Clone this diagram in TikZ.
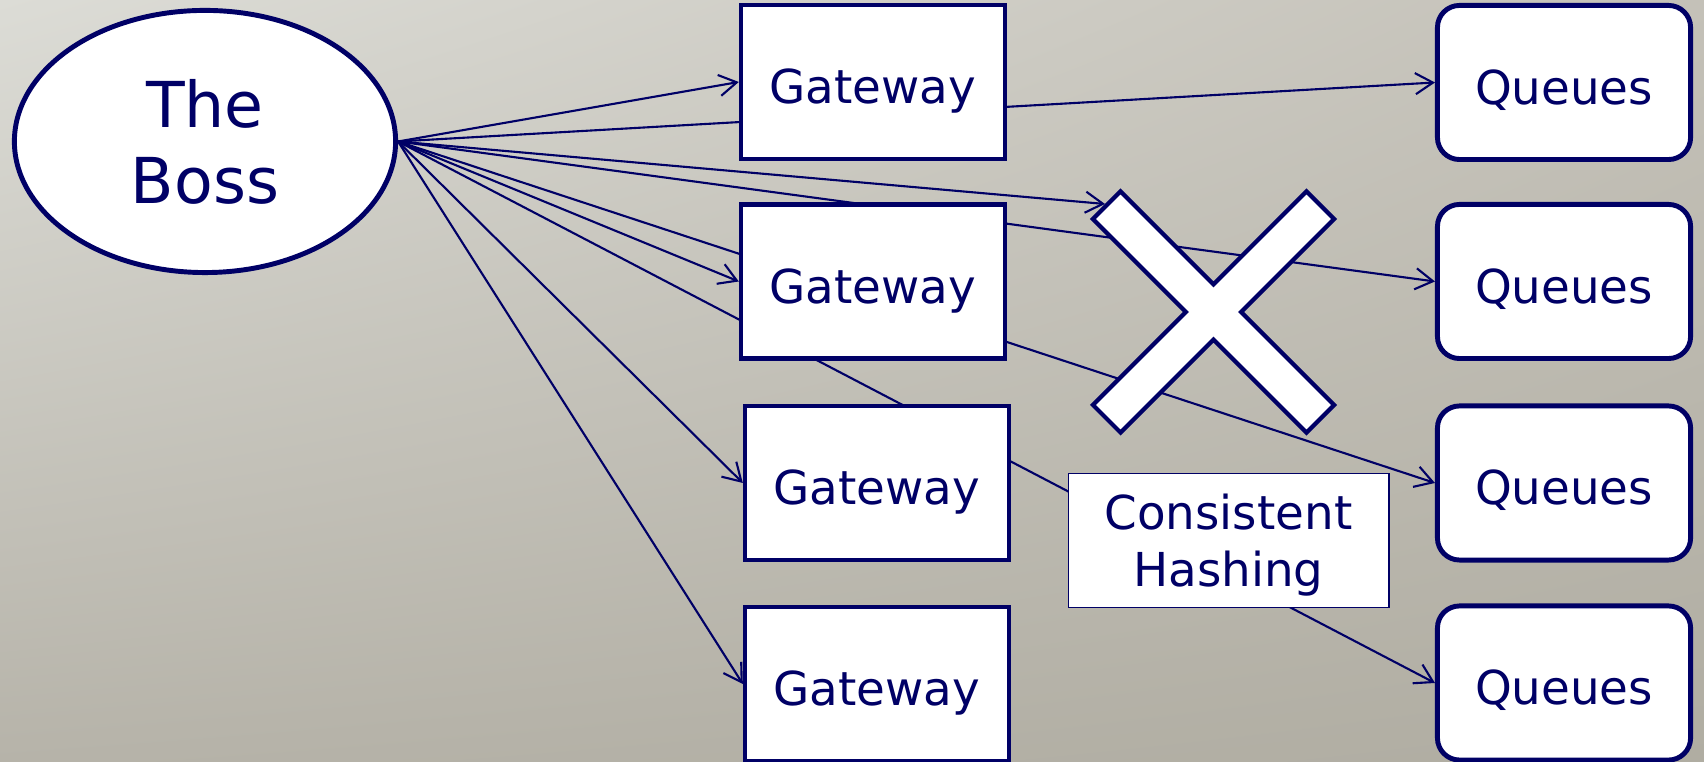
\documentclass[tikz,border=0pt]{standalone}
\usepackage{fontspec}
\setmainfont{DejaVu Sans}
\usetikzlibrary{shapes.geometric,arrows.meta,shadings}
\definecolor{navy}{RGB}{0,0,102}
\definecolor{bgUL}{RGB}{220,220,214}
\definecolor{bgUR}{RGB}{196,193,184}
\definecolor{bgLL}{RGB}{182,179,169}
\definecolor{bgLR}{RGB}{176,173,162}
\pgfdeclarelayer{bglayer}
\pgfdeclarelayer{linelayer}
\pgfsetlayers{bglayer,linelayer,main}
\tikzset{
  gatebox/.style={draw=navy, line width=1.2pt, fill=white, text=navy, inner sep=0pt,
    minimum width=2.64cm, minimum height=1.54cm, font=\fontsize{13.3}{16}\selectfont,
    text height=12.5pt, text depth=0pt},
  queuebox/.style={draw=navy, line width=1.4pt, fill=white, text=navy, inner sep=0pt,
    rounded corners=0.22cm, minimum width=2.53cm, minimum height=1.54cm,
    font=\fontsize{13.3}{16}\selectfont, text height=12.5pt, text depth=0pt},
  bossnode/.style={ellipse, draw=navy, line width=1.4pt, fill=white, text=navy, inner sep=0pt,
    minimum width=3.81cm, minimum height=2.62cm, align=center,
    font=\fontsize{18}{21.6}\selectfont, text depth=0pt},
  hashbox/.style={draw=navy, line width=0.5pt, fill=white, text=navy, inner sep=0pt,
    minimum width=3.20cm, minimum height=1.34cm, align=center,
    font=\fontsize{13.3}{16.2}\selectfont, text depth=0pt},
  crossmark/.style={draw=navy, line width=1.2pt, fill=white},
  conn/.style={draw=navy, line width=0.6pt},
  arr/.style={conn, -{Straight Barb[length=5pt,width=6pt]}}
}
\begin{document}
\begin{tikzpicture}[x=0.01cm,y=-0.01cm]
\useasboundingbox (0,0) rectangle (1704,762);
\begin{pgfonlayer}{bglayer}
  \shade[upper left=bgUL, upper right=bgUR, lower left=bgLL, lower right=bgLR]
    (0,0) rectangle (1704,762);
\end{pgfonlayer}

\node[bossnode] (boss) at (205,141.5) {The\\Boss};

\node[gatebox] (g1) at (873,82) {Gateway};
\node[gatebox] (g2) at (873,281.5) {Gateway};
\node[gatebox] (g3) at (877,483) {Gateway};
\node[gatebox] (g4) at (877,684) {Gateway};

\node[queuebox] (q1) at (1564,82.5) {Queues};
\node[queuebox] (q2) at (1564,281.5) {Queues};
\node[queuebox] (q3) at (1564,483) {Queues};
\node[queuebox] (q4) at (1564,683) {Queues};

\node[hashbox] (hash) at (1228.5,540.5) {Consistent\\Hashing};

% the cross
\begin{scope}[shift={(1213.5,312)}, rotate=45]
  \draw[crossmark] (19.5,19.5) -- (151,19.5) -- (151,-19.5) -- (19.5,-19.5)
    -- (19.5,-151) -- (-19.5,-151) -- (-19.5,-19.5) -- (-151,-19.5)
    -- (-151,19.5) -- (-19.5,19.5) -- (-19.5,151) -- (19.5,151) -- cycle;
\end{scope}
\coordinate (xtl) at (1105,204);

\begin{pgfonlayer}{linelayer}
  \draw[arr] (boss.east) -- (g1.west);
  \draw[arr] (boss.east) -- (q1.west);
  \draw[arr] (boss.east) -- (xtl);
  \draw[arr] (boss.east) -- (q2.west);
  \draw[arr] (boss.east) -- (g2.west);
  \draw[arr] (boss.east) -- (q3.west);
  \draw[arr] (boss.east) -- (q4.west);
  \draw[arr] (boss.east) -- (g3.west);
  \draw[arr] (boss.east) -- (g4.west);
\end{pgfonlayer}
\end{tikzpicture}
\end{document}
